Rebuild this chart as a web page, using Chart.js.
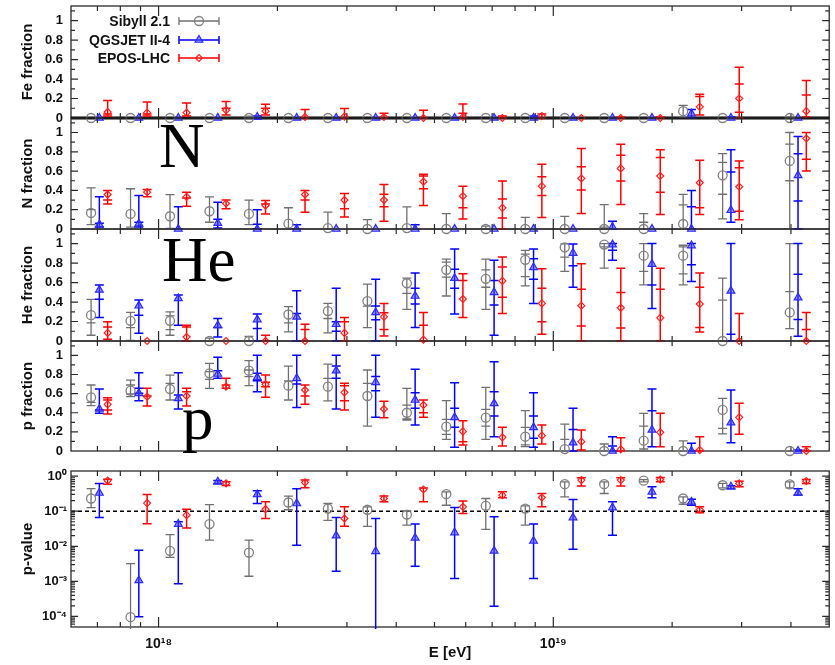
<!DOCTYPE html>
<html>
<head>
<meta charset="utf-8">
<script src="https://cdn.jsdelivr.net/npm/chart.js@4.4.0/dist/chart.umd.min.js"></script>
<style>
  body { margin: 0; background: #fff; width: 835px; height: 665px; position: relative; overflow: hidden; font-family: "Liberation Sans", Arial, sans-serif; }
  canvas { position: absolute; left: 0; }
  .big { position: absolute; font-family: "Liberation Serif", "Times New Roman", serif; font-size: 63px; line-height: 63px; color: #000; }
  .leg { position: absolute; left: 0; width: 170px; text-align: right; font-weight: bold; font-size: 14px; line-height: 16px; color: #111; }
</style>
</head>
<body>
<canvas id="cFe" width="835" height="128" style="top:0px"></canvas>
<canvas id="cN" width="835" height="131" style="top:108px"></canvas>
<canvas id="cHe" width="835" height="132" style="top:219px"></canvas>
<canvas id="cP" width="835" height="130" style="top:331px"></canvas>
<canvas id="cPv" width="835" height="204" style="top:461px"></canvas>
<div class="leg" style="top:13px">Sibyll 2.1</div>
<div class="leg" style="top:32px">QGSJET II-4</div>
<div class="leg" style="top:50px">EPOS-LHC</div>
<div class="big" style="left:159px;top:115px">N</div>
<div class="big" style="left:162px;top:229px">He</div>
<div class="big" style="left:182px;top:387px">p</div>
<script>
// bin centres, log10(E/eV)
const binLogE = [17.85, 17.95, 18.05, 18.15, 18.25, 18.35, 18.45, 18.55, 18.65, 18.75, 18.85, 18.95, 19.05, 19.15, 19.25, 19.35, 19.45, 19.62];
const models = ['Sibyll 2.1', 'QGSJET II-4', 'EPOS-LHC'];
const fracTickLabels = ['0', '0.2', '0.4', '0.6', '0.8', '1'];
const pvTickLabels = ['10⁻⁴', '10⁻³', '10⁻²', '10⁻¹', '10⁰'];
const xTickLabels = ['10¹⁸', '10¹⁹'];

// each point: [value, low end, high end, ...inner (stat) caps]
const feSibyll = [[0,0,0],[0,0,0],[0,0,0],[0,0,0],[0,0,0.02],[0,0,0],[0,0,0],[0,0,0],[0,0,0],[0,0,0],[0,0,0],[0,0,0],[0,0,0],[0,0,0],[0,0,0],[0.07,0.01,0.13],[0,0,0],[0,0,0.01]];
const feQgsjet = [[0,0,0],[0,0,0],[0,0,0],[0,0,0],[0.01,0,0.02],[0,0,0],[0,0,0],[0,0,0],[0,0,0],[0,0,0],[0,0,0],[0,0,0.02],[0,0,0],[0,0,0],[0,0,0],[0.045,0,0.086],[0,0,0.01],[0,0,0]];
const feEpos = [[0.062,0.02,0.18,0.04],[0.055,0.02,0.165,0.04],[0.055,0.02,0.155],[0.08,0.03,0.17,0.1],[0.07,0.03,0.14,0.1],[0.01,0,0.086],[0.015,0,0.097],[0.01,0,0.05],[0,0,0.08],[0.01,0,0.145,0.05],[0,0,0.02],[0.02,0,0.04],[0,0,0],[0,0,0.01],[0,0,0.01],[0.115,0.03,0.245,0.22],[0.2,0,0.52,0.35,0.06],[0.07,0.01,0.385,0.235]];

const nSibyll = [[0.167,0.045,0.427,0.2],[0.156,0.02,0.417],[0.132,0.007,0.357],[0.184,0.07,0.333],[0.156,0.045,0.3],[0.055,0,0.22],[0.01,0,0.174],[0,0,0.097],[0.01,0,0.23],[0,0,0.16],[0,0,0.03],[0,0,0.12],[0,0,0.13],[0,0,0.253,0.02],[0,0,0.16,0.07],[0.052,0,0.358,0.25],[0.556,0.104,0.78,0.69,0.36],[0.705,0,1.0,0.88,0.5]];
const nQgsjet = [[0.045,0.02,0.333,0.06],[0.055,0.02,0.347,0.07],[0,0,0.23],[0.06,0.01,0.278,0.1],[0,0,0.2,0.05],[0,0,0.045],[0,0,0],[0,0,0],[0,0,0.045],[0,0,0],[0,0,0],[0,0,0],[0,0,0],[0.02,0,0.08],[0,0,0],[0,0,0.4,0.23],[0.194,0.07,0.82,0.59],[0.556,0,0.958,0.78,0.29]];
const nEpos = [[0.357,0.26,0.4,0.3],[0.382,0.333,0.41],[0.333,0.236,0.38,0.32],[0.264,0.21,0.3],[0.243,0.156,0.295,0.26],[0.357,0.174,0.4,0.3],[0.3,0.125,0.368,0.21],[0.3,0.08,0.46,0.36,0.23],[0.49,0.243,0.566,0.549,0.417],[0.34,0.104,0.444,0.22],[0.219,0,0.497,0.31,0.115],[0.444,0.12,0.67,0.542,0.347],[0.524,0.16,0.833,0.646,0.403],[0.628,0.253,0.878,0.764,0.497],[0.549,0.15,0.82,0.74,0.382],[0.479,0.15,0.712,0.219],[0.4375,0.097,0.705,0.635,0.184],[0.9375,0.6,1.0,0.722]];

const heSibyll = [[0.265,0.059,0.428,0.186],[0.207,0.007,0.293,0.138],[0.207,0.059,0.3,0.259,0.117],[0,0,0.03],[0,0,0.048],[0.272,0.093,0.352,0.186],[0.307,0.083,0.386,0.231],[0.41,0.138,0.583,0.359],[0.593,0.324,0.645,0.49],[0.731,0.462,0.841,0.81,0.655],[0.638,0.324,0.841,0.731,0.552],[0.834,0.566,0.931,0.893,0.662],[0.962,0.714,0.997,0.862],[0.99,0.748,1.0,0.966],[0.876,0.576,1.0,0.714],[0.876,0.576,0.983,0.966,0.69],[0,0,0.645,0.42],[0.293,0.128,1.0,0.507]];
const heQgsjet = [[0.524,0.241,0.576,0.428],[0.362,0.08,0.42,0.265],[0.438,0.162,0.472],[0.16,0.041,0.231,0.138],[0.22,0,0.276,0.128],[0.248,0,0.517,0.283],[0.172,0,0.541,0.197,0.1],[0.293,0,0.634,0.359,0.217],[0.462,0.138,0.697,0.541,0.379],[0.645,0.276,0.945,0.738,0.541],[0.5,0.059,0.828,0.621,0.369],[0.755,0.386,0.945,0.845,0.634],[0.903,0.552,0.997,0.772],[0.99,0.828,1.0,0.931],[0.79,0.334,1.0,0.576],[0.98,0.61,1.0,0.783],[0.514,0,1.0,0.069],[0.445,0.048,1.0,0.686,0.22]];
const heEpos = [[0.083,0.017,0.197,0.145],[0,0,0],[0.041,0,0.162,0.145],[0,0,0],[0,0,0.059],[0,0,0.172,0.117],[0.083,0,0.241,0.197],[0.248,0.052,0.386,0.29,0.117],[0.014,0,0.293,0.162],[0.431,0.241,0.69,0.621],[0.617,0.283,0.862,0.759,0.448],[0.386,0.069,0.741,0.541,0.197],[0.362,0,0.793,0.531,0.155],[0.341,0,0.748,0.497,0.134],[0.238,0,0.748,0.531],[0.38,0.093,0.697,0.552,0.138],[0,0,0.283],[0,0,0.293,0.117]];

const pSibyll = [[0.561,0.474,0.69,0.509],[0.631,0.568,0.742,0.69,0.596],[0.648,0.533,0.794,0.707],[0.812,0.655,0.916,0.829,0.749],[0.84,0.683,0.944,0.847,0.777],[0.683,0.533,0.888,0.732],[0.672,0.523,0.909,0.76],[0.575,0.261,0.847,0.707],[0.4,0.324,0.655,0.48,0.335],[0.254,0.122,0.526,0.331,0.174],[0.348,0.122,0.666,0.436,0.261],[0.15,0.045,0.422,0.247,0.063],[0.02,0,0.282,0.122],[0,0,0.073],[0.108,0,0.394,0.261,0.021],[0,0,0.105],[0.429,0.178,0.55,0.237],[0,0,0]];
const pQgsjet = [[0.439,0.394,0.648,0.429],[0.603,0.526,0.819,0.655,0.603],[0.55,0.439,0.819,0.585],[0.805,0.76,0.979,0.84],[0.77,0.62,1.0,0.812,0.735],[0.76,0.456,1.0,0.7],[0.84,0.439,1.0,0.889,0.76],[0.718,0.352,1.0,0.78,0.63],[0.533,0.272,0.854,0.61,0.446],[0.352,0.038,0.714,0.446,0.247],[0.498,0.15,0.934,0.62,0.366],[0.247,0.038,0.61,0.366,0.132],[0.087,0,0.446,0.226],[0,0,0.15,0.052],[0.22,0.045,0.648,0.422],[0,0,0.08],[0.296,0.087,0.638],[0,0,0.01]];
const pEpos = [[0.488,0.387,0.557,0.533,0.429],[0.568,0.47,0.655,0.575],[0.575,0.47,0.655,0.62],[0.672,0.655,0.76,0.69],[0.697,0.561,0.794,0.718,0.672],[0.638,0.488,0.69,0.575],[0.613,0.429,0.707,0.683,0.526],[0.439,0.348,0.52],[0.481,0.352,0.533,0.4],[0.205,0.063,0.317,0.098],[0.143,0.052,0.247],[0.16,0.073,0.272],[0.098,0.01,0.22],[0.017,0,0.139],[0.195,0.045,0.394],[0.01,0,0.15],[0.352,0.174,0.498],[0,0,0.045]];

const pvSibyll = [[0.23,0.127,0.44],[9.5e-5,1e-6,3.2e-3],[7.4e-3,4.8e-3,0.0215],[0.043,0.015,0.155],[6.6e-3,1.4e-3,0.015],[0.177,0.11,0.27],[0.119,0.055,0.166],[0.11,0.037,0.133],[0.08,0.04,0.1],[0.306,0.148,0.357],[0.142,0.0305,0.23],[0.119,0.04,0.142],[0.59,0.257,0.69],[0.59,0.32,0.69],[0.74,0.69,0.8],[0.23,0.158,0.257],[0.55,0.46,0.62],[0.58,0.46,0.69]];
const pvQgsjet = [[0.33,0.066,0.62],[1.07e-3,9.8e-5,7.7e-3],[0.043,8.6e-4,0.05],[0.69,0.62,0.75],[0.3,0.166,0.38],[0.166,0.0107,0.44],[0.02,1.94e-3,0.066],[7.2e-3,1e-6,0.062],[0.0173,2.7e-3,0.043],[0.0246,1.2e-3,0.127],[7.4e-3,1.94e-4,0.069],[0.0142,1.2e-3,0.043],[0.066,8.2e-3,0.215],[0.127,0.0205,0.185],[0.357,0.24,0.5],[0.185,0.148,0.22],[0.5,0.44,0.53],[0.33,0.29,0.44]];
const pvEpos = [[0.74,0.59,0.82],[0.17,0.044,0.3],[0.077,0.033,0.114],[0.62,0.54,0.69],[0.114,0.062,0.185],[0.66,0.47,0.77],[0.062,0.037,0.133],[0.23,0.185,0.27],[0.415,0.185,0.46],[0.133,0.086,0.197],[0.286,0.24,0.357],[0.246,0.133,0.32],[0.77,0.52,0.9],[0.77,0.52,0.9],[0.8,0.69,0.92],[0.11,0.09,0.133],[0.62,0.5,0.72],[0.72,0.62,0.8]];

const pvThreshold = 0.1;

// styles
const FONT = '"Liberation Sans", Arial, Helvetica, sans-serif';
Chart.defaults.font.family = FONT;
Chart.defaults.color = '#000';

const modelStyle = [
  { color: '#808080', bar: '#707070', fill: 'rgba(0,0,0,0)', point: 'circle', r: 4.5, bw: 1.3, lw: 1.3, shift: -0.021 },
  { color: '#2a2aff', bar: '#0000ff', fill: 'rgba(70,70,255,0.55)', point: 'triangle', r: 4.5, bw: 1.2, lw: 1.5, shift: 0 },
  { color: '#ff2020', bar: '#ff0000', fill: 'rgba(0,0,0,0)', point: 'rectRot', r: 3.5, bw: 1.2, lw: 1.5, shift: 0.021 }
];
const legendRows = [21, 40, 58];
const CAP = 4.5;

function drawPointShape(ctx, st, x, y) {
  ctx.strokeStyle = st.color;
  ctx.fillStyle = st.fill;
  ctx.lineWidth = st.bw;
  Chart.helpers.drawPoint(ctx, { pointStyle: st.point, radius: st.r, borderWidth: st.bw, rotation: 0 }, x, y);
}

const panelPlugin = {
  id: 'panel',
  beforeDatasetsDraw(chart, args, o) {
    const { ctx, chartArea: a, scales: { x, y } } = chart;
    ctx.save();
    if (o.refLine) {
      const py = y.getPixelForValue(o.refLine);
      ctx.strokeStyle = '#000';
      ctx.lineWidth = 1.4;
      ctx.setLineDash([4, 3]);
      ctx.beginPath(); ctx.moveTo(a.left, py); ctx.lineTo(a.right, py); ctx.stroke();
      ctx.setLineDash([]);
    }
    // frame
    ctx.strokeStyle = '#2a2a2a';
    ctx.lineWidth = 1.3;
    ctx.strokeRect(a.left, a.top, a.right - a.left, a.bottom - a.top);
    if (o.zeroLine) {
      const py = y.getPixelForValue(0);
      ctx.strokeStyle = '#000';
      ctx.lineWidth = 3;
      ctx.beginPath(); ctx.moveTo(a.left, py); ctx.lineTo(a.right, py); ctx.stroke();
    }
    // inward ticks
    ctx.strokeStyle = '#2a2a2a';
    ctx.lineWidth = 1.2;
    ctx.beginPath();
    const e0 = Math.floor(Math.log10(x.min)), e1 = Math.ceil(Math.log10(x.max));
    for (let e = e0; e <= e1; e++) {
      for (let j = 1; j <= 9; j++) {
        const v = j * Math.pow(10, e);
        if (v <= x.min || v >= x.max) continue;
        const px = x.getPixelForValue(v);
        const len = j === 1 ? 10 : 5;
        ctx.moveTo(px, a.bottom); ctx.lineTo(px, a.bottom - len);
        ctx.moveTo(px, a.top); ctx.lineTo(px, a.top + len);
      }
    }
    const yt = [];
    if (y.type === 'logarithmic') {
      for (let e = Math.floor(Math.log10(y.min)); e <= Math.ceil(Math.log10(y.max)); e++) {
        for (let j = 1; j <= 9; j++) {
          const v = j * Math.pow(10, e);
          if (v > y.min && v < y.max) yt.push([v, j === 1 ? 7 : 4]);
        }
      }
    } else {
      for (let k = 1; k * 0.1 < y.max; k++) yt.push([k * 0.1, k % 2 === 0 ? 7 : 4]);
    }
    yt.forEach(([v, len]) => {
      const py = y.getPixelForValue(v);
      ctx.moveTo(a.left, py); ctx.lineTo(a.left + len, py);
      ctx.moveTo(a.right, py); ctx.lineTo(a.right - len, py);
    });
    ctx.stroke();

    // error bars
    ctx.beginPath();
    ctx.rect(a.left, a.top - 2, a.right - a.left, a.bottom - a.top + 4);
    ctx.clip();
    chart.data.datasets.forEach((ds, di) => {
      const meta = chart.getDatasetMeta(di);
      ctx.strokeStyle = ds.barColor;
      ctx.lineWidth = ds.barWidth;
      ds.bars.forEach((b, i) => {
        const [v, lo, hi, ...inner] = b;
        if (hi - lo <= 0) return;
        const px = meta.data[i].x;
        ctx.beginPath();
        ctx.moveTo(px, y.getPixelForValue(lo));
        ctx.lineTo(px, y.getPixelForValue(hi));
        [lo, hi, ...inner].forEach(c => {
          const py = y.getPixelForValue(c);
          ctx.moveTo(px - CAP, py); ctx.lineTo(px + CAP, py);
        });
        ctx.stroke();
      });
    });
    ctx.restore();
  },
  afterDraw(chart, args, o) {
    if (!o.legend) return;
    const ctx = chart.ctx;
    ctx.save();
    models.forEach((m, k) => {
      const st = modelStyle[k];
      const py = legendRows[k];
      ctx.strokeStyle = st.bar;
      ctx.lineWidth = st.lw;
      ctx.beginPath();
      ctx.moveTo(179, py); ctx.lineTo(219, py);
      ctx.moveTo(179, py - 4); ctx.lineTo(179, py + 4);
      ctx.moveTo(219, py - 4); ctx.lineTo(219, py + 4);
      ctx.stroke();
      drawPointShape(ctx, st, 199, py);
    });
    ctx.restore();
  }
};

function makeDatasets(series) {
  return series.map((bars, m) => {
    const st = modelStyle[m];
    return {
      label: models[m],
      data: binLogE.map((e, i) => ({ x: Math.pow(10, e + st.shift), y: bars[i][0] })),
      bars: bars,
      barColor: st.bar,
      barWidth: st.lw,
      pointStyle: st.point,
      pointRadius: st.r,
      pointBorderWidth: st.bw,
      pointBorderColor: st.color,
      pointBackgroundColor: st.fill,
      showLine: false,
      clip: false
    };
  });
}

function fracLabel(v) {
  const i = Math.round(v * 10);
  if (Math.abs(v * 10 - i) > 1e-6 || i % 2 !== 0) return '';
  return fracTickLabels[i / 2] || '';
}

function makePanel(id, title, series, opts) {
  const isPv = !!opts.pvalue;
  const yScale = isPv ? {
    type: 'logarithmic', min: 5e-5, max: 1.4,
    ticks: {
      autoSkip: false, padding: 4, font: { size: 13, weight: 'bold' }, color: '#111',
      callback: v => {
        const e = Math.log10(v);
        if (Math.abs(e - Math.round(e)) > 1e-6) return '';
        return pvTickLabels[Math.round(e) + 4] || '';
      }
    }
  } : {
    type: 'linear', min: 0, max: 1.15,
    ticks: { stepSize: 0.1, includeBounds: false, autoSkip: false, padding: 8, font: { size: 13, weight: 'bold' }, color: '#111', callback: fracLabel }
  };
  Object.assign(yScale, {
    grid: { display: false, drawTicks: false },
    border: { display: false },
    title: { display: true, text: title, font: { size: 15, weight: 'bold' }, color: '#111', padding: { top: 19, bottom: 0 } },
    afterFit: s => { s.width = 71; s.paddingTop = 0; s.paddingBottom = 0; }
  });
  const xScale = {
    type: 'logarithmic', min: 6e17, max: 5e19,
    display: isPv,
    grid: { display: false, drawTicks: false },
    border: { display: false },
    ticks: {
      autoSkip: false, maxRotation: 0, padding: 9, font: { size: 14, weight: 'bold' }, color: '#111',
      callback: v => {
        const e = Math.log10(v);
        if (Math.abs(e - Math.round(e)) > 1e-6) return '';
        return xTickLabels[Math.round(e) - 18] || '';
      }
    },
    title: { display: isPv, text: 'E [eV]', font: { size: 15, weight: 'bold' }, color: '#111', padding: { top: 0, bottom: 3 } },
    afterFit: s => { if (isPv) s.height = 38; s.paddingLeft = 0; s.paddingRight = 0; }
  };
  return new Chart(document.getElementById(id), {
    type: 'scatter',
    data: { datasets: makeDatasets(series) },
    options: {
      responsive: false,
      animation: false,
      events: [],
      layout: { padding: { left: 0, right: 2, top: opts.padTop, bottom: opts.padBottom } },
      scales: { x: xScale, y: yScale },
      plugins: {
        legend: { display: false },
        tooltip: { enabled: false },
        panel: { zeroLine: !!opts.zeroLine, refLine: opts.refLine || 0, legend: !!opts.legend }
      }
    },
    plugins: [panelPlugin]
  });
}

makePanel('cFe', 'Fe fraction', [feSibyll, feQgsjet, feEpos], { padTop: 6, padBottom: 10, zeroLine: true, legend: true });
makePanel('cN', 'N fraction', [nSibyll, nQgsjet, nEpos], { padTop: 10, padBottom: 10 });
makePanel('cHe', 'He fraction', [heSibyll, heQgsjet, heEpos], { padTop: 10, padBottom: 10 });
makePanel('cP', 'p fraction', [pSibyll, pQgsjet, pEpos], { padTop: 10, padBottom: 10 });
makePanel('cPv', 'p-value', [pvSibyll, pvQgsjet, pvEpos], { padTop: 10, padBottom: 0, pvalue: true, refLine: pvThreshold });
</script>
</body>
</html>
